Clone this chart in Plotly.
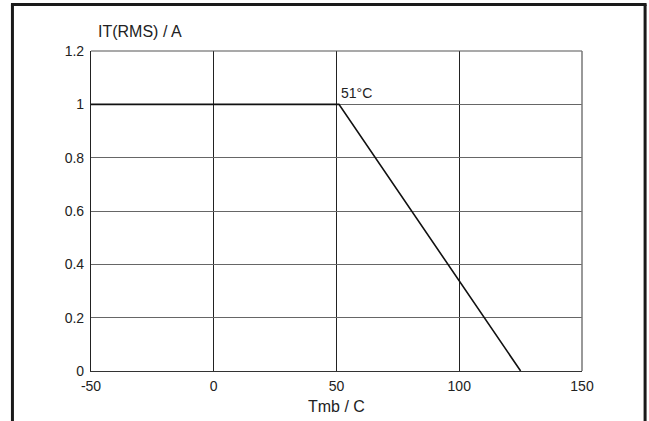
import plotly.graph_objects as go

# Data
temp_c = [-50, 51, 125]
current_a = [1, 1, 0]
x_ticks = [-50, 0, 50, 100, 150]
x_tick_labels = ["-50", "0", "50", "100", "150"]
y_ticks = [0, 0.2, 0.4, 0.6, 0.8, 1, 1.2]
y_tick_labels = ["0", "0.2", "0.4", "0.6", "0.8", "1", "1.2"]
knee_label = "51°C"
y_title = "IT(RMS) / A"
x_title = "Tmb / C"

FONT = "Liberation Sans, Arial, sans-serif"

fig = go.Figure()
fig.add_trace(go.Scatter(x=temp_c, y=current_a, mode="lines",
                         line=dict(color="#111111", width=1.6),
                         showlegend=False, hoverinfo="skip"))

fig.update_layout(
    width=649, height=421,
    margin=dict(l=91, r=67, t=51, b=50),
    paper_bgcolor="white", plot_bgcolor="white",
    font=dict(family=FONT, size=14, color="#222222"),
    showlegend=False,
    xaxis=dict(range=[-50, 150], tickmode="array", tickvals=x_ticks,
               ticktext=x_tick_labels,
               showgrid=True, gridcolor="#222222", gridwidth=1.2,
               zeroline=False, showline=True, linecolor="#333333", linewidth=1.2,
               mirror=False, ticks="outside", ticklen=2, tickcolor="white",
               tickfont=dict(size=14, color="#222222")),
    yaxis=dict(range=[0, 1.2], tickmode="array", tickvals=y_ticks,
               ticktext=y_tick_labels,
               showgrid=True, gridcolor="#666666", gridwidth=1.2,
               zeroline=False, showline=True, linecolor="#222222", linewidth=1.2,
               ticks="outside", ticklen=3, tickcolor="white",
               tickfont=dict(size=14, color="#222222")),
)

# plot frame top/right (gray)
fig.add_shape(type="line", xref="paper", yref="paper", x0=0, x1=1, y0=1, y1=1,
              line=dict(color="#555555", width=1.2))
fig.add_shape(type="line", xref="paper", yref="paper", x0=1, x1=1, y0=0, y1=1,
              line=dict(color="#777777", width=1.5))

# outer border (no bottom edge)
LX, RX, TY, BY = -0.16, 1.1285, 1.145, -0.3
border = dict(color="#1a1a1a", width=3)
fig.add_shape(type="line", xref="paper", yref="paper", x0=LX, x1=LX, y0=BY, y1=TY, line=border)
fig.add_shape(type="line", xref="paper", yref="paper", x0=RX, x1=RX, y0=BY, y1=TY, line=border)
fig.add_shape(type="line", xref="paper", yref="paper", x0=LX - 0.003, x1=RX + 0.003, y0=TY, y1=TY, line=border)

fig.add_annotation(x=51, y=1, xref="x", yref="y", text=knee_label,
                   showarrow=False, xanchor="left", yanchor="bottom",
                   xshift=0, yshift=1, font=dict(size=14, color="#222222"))
fig.add_annotation(x=0.01, y=1.0625, xref="paper", yref="paper", text=y_title,
                   showarrow=False, xanchor="left", yanchor="middle",
                   font=dict(size=16, color="#222222"))
fig.add_annotation(x=0.5, y=-0.111, xref="paper", yref="paper", text=x_title,
                   showarrow=False, xanchor="center", yanchor="middle",
                   font=dict(size=16, color="#222222"))

fig.write_html("out.html", config={"displayModeBar": False},
               post_script="document.body.style.margin='0';document.body.style.overflow='hidden';")
